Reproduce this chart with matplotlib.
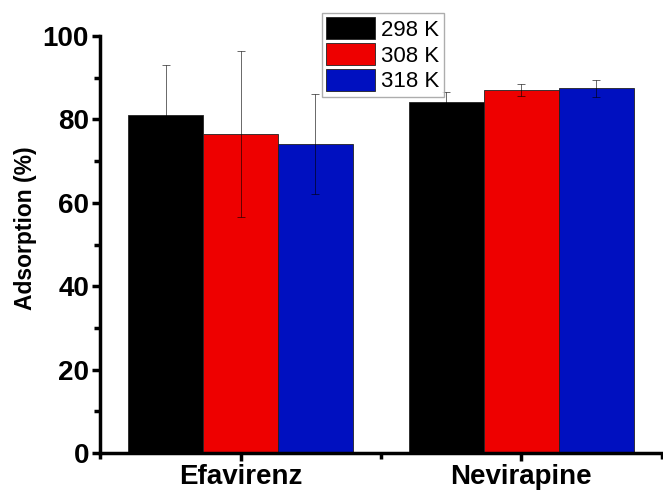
import matplotlib
matplotlib.use("Agg")
import matplotlib.pyplot as plt
from matplotlib.ticker import MultipleLocator
import numpy as np

plt.rcParams['font.family'] = ['Liberation Sans', 'DejaVu Sans']

drugs = ['Efavirenz', 'Nevirapine']
temps = ['298 K', '308 K', '318 K']
colors = ['#000000', '#ee0000', '#0010c0']

# adsorption (%) per temperature, one value per drug
values = [[81.0, 84.1],
          [76.5, 87.0],
          [74.0, 87.4]]
errors = [[12.0, 2.4],
          [20.0, 1.5],
          [12.0, 2.0]]

fig = plt.figure(figsize=(6.63, 4.92), dpi=100)
ax = fig.add_axes([0.151, 0.079, 0.847, 0.848])

x = np.arange(1, len(drugs) + 1)
width = 0.267

for i, (t, c) in enumerate(zip(temps, colors)):
    pos = x + (i - 1) * width
    ax.bar(pos, values[i], width, color=c, edgecolor='#222222', linewidth=0.6,
           label=t, zorder=2)
    # thin black error bars: grey on white, hidden on the black bars
    ax.errorbar(pos, values[i], yerr=errors[i], fmt='none', ecolor='#000000',
                elinewidth=0.55, capsize=3, capthick=0.55, alpha=0.75, zorder=3)

ax.set_xlim(0.5, 2.5)
ax.set_ylim(0, 100)
ax.set_xticks(x, drugs)
ax.set_xticks([0.5, 1.5, 2.5], minor=True)
ax.yaxis.set_major_locator(MultipleLocator(20))
ax.yaxis.set_minor_locator(MultipleLocator(10))

for s in ['top', 'right']:
    ax.spines[s].set_visible(False)
for s in ['left', 'bottom']:
    ax.spines[s].set_linewidth(2.5)

ax.tick_params(which='major', direction='out', length=6, width=2.5,
               labelsize=20, pad=2)
ax.tick_params(which='minor', direction='out', length=4, width=2.5)
for lab in ax.get_xticklabels() + ax.get_yticklabels():
    lab.set_fontweight('bold')

ax.set_ylabel('Adsorption (%)', fontsize=16.5, fontweight='bold')
ax.yaxis.set_label_coords(-0.112, 0.54)

leg = fig.legend(loc='upper left', bbox_to_anchor=(322 / 663, 1 - 13 / 492),
                 fontsize=16, frameon=True, fancybox=False, edgecolor='#999999',
                 handlelength=2.2, handleheight=1.1, handletextpad=0.25,
                 borderpad=0.2, labelspacing=0.12, borderaxespad=0)
leg.get_frame().set_linewidth(1.0)

fig.savefig('out.png', dpi=100)
